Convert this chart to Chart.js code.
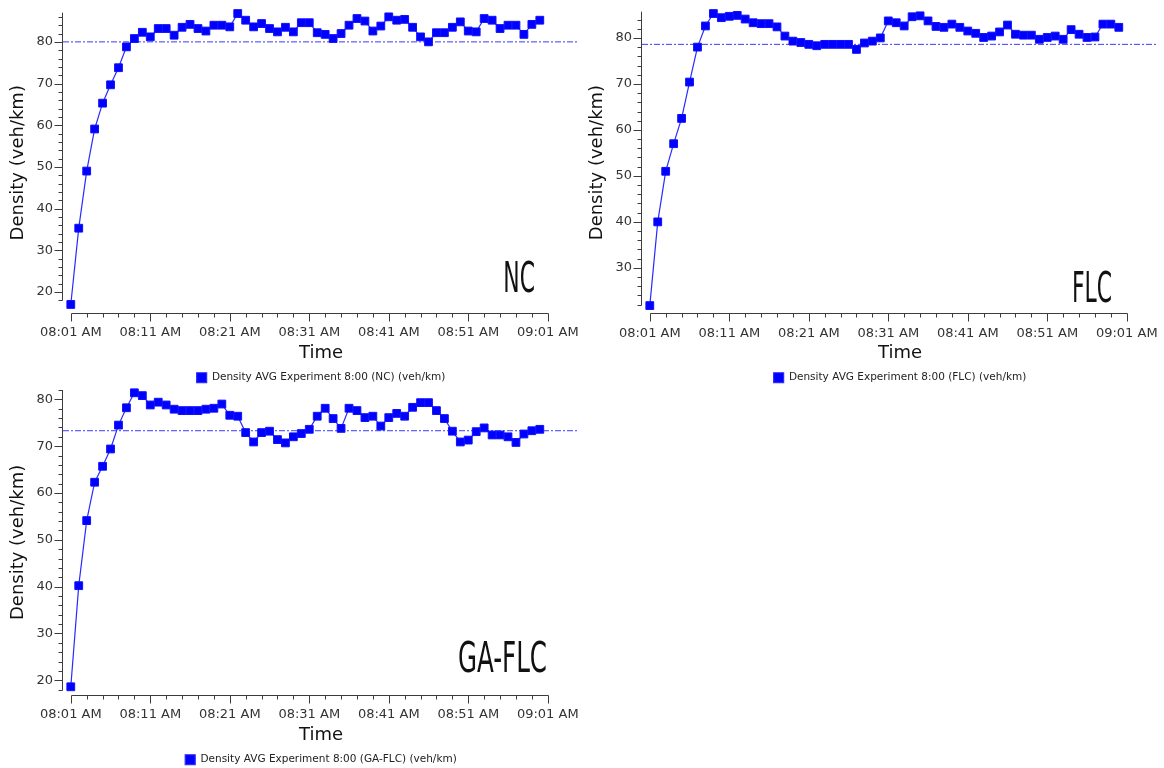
<!DOCTYPE html>
<html>
<head>
<meta charset="utf-8">
<script src="https://cdn.jsdelivr.net/npm/chart.js@4.4.1/dist/chart.umd.min.js"></script>
<style>
  html, body { margin: 0; padding: 0; background: #fff; }
  body { position: relative; width: 1164px; height: 768px; overflow: hidden; }
  canvas { position: absolute; }
</style>
</head>
<body>
<canvas id="chart-nc" width="600" height="393" style="left:0px;top:0px"></canvas>
<canvas id="chart-flc" width="600" height="393" style="left:579px;top:0px"></canvas>
<canvas id="chart-gaflc" width="600" height="395" style="left:0px;top:380px"></canvas>
<script>
// x axis labels, one every 10 minutes
const timeLabels = ["08:01 AM", "08:11 AM", "08:21 AM", "08:31 AM", "08:41 AM", "08:51 AM", "09:01 AM"];

// average density per minute, 08:01 .. 09:00
const densityNC = [
  17.0, 35.3, 49.0, 59.1, 65.3, 69.7, 73.8, 78.8, 80.8, 82.3,
  81.2, 83.2, 83.2, 81.6, 83.5, 84.2, 83.2, 82.6, 84.0, 84.0,
  83.6, 86.8, 85.2, 83.6, 84.4, 83.2, 82.4, 83.5, 82.4, 84.6,
  84.6, 82.2, 81.8, 80.8, 82.0, 84.0, 85.6, 85.0, 82.6, 83.8,
  86.0, 85.2, 85.4, 83.5, 81.2, 80.0, 82.2, 82.2, 83.5, 84.8,
  82.6, 82.4, 85.6, 85.2, 83.2, 84.0, 84.0, 81.8, 84.2, 85.2
];
const densityFLC = [
  21.8, 40.0, 51.0, 57.0, 62.5, 70.4, 78.0, 82.6, 85.3, 84.4,
  84.7, 84.9, 84.1, 83.3, 83.1, 83.1, 82.4, 80.4, 79.3, 79.0,
  78.6, 78.3, 78.6, 78.6, 78.6, 78.6, 77.5, 78.9, 79.3, 80.0,
  83.7, 83.3, 82.6, 84.6, 84.8, 83.7, 82.5, 82.3, 83.0, 82.3,
  81.5, 81.0, 80.1, 80.4, 81.3, 82.8, 80.8, 80.6, 80.6, 79.7,
  80.1, 80.4, 79.7, 81.8, 80.8, 80.1, 80.2, 83.0, 83.0, 82.3
];
const densityGAFLC = [
  18.6, 40.2, 54.1, 62.3, 65.7, 69.4, 74.5, 78.2, 81.4, 80.8,
  78.8, 79.4, 78.8, 77.9, 77.6, 77.6, 77.6, 77.9, 78.1, 79.0,
  76.6, 76.4, 72.9, 70.9, 72.9, 73.2, 71.4, 70.7, 72.0, 72.7,
  73.6, 76.4, 78.1, 75.9, 73.8, 78.1, 77.6, 76.1, 76.4, 74.3,
  76.1, 77.0, 76.4, 78.3, 79.3, 79.3, 77.6, 75.9, 73.2, 70.9,
  71.3, 73.1, 73.9, 72.4, 72.4, 72.0, 70.8, 72.6, 73.3, 73.6
];

// mean level of each run (dash-dot line)
const avgNC = 80.0;
const avgFLC = 78.6;
const avgGAFLC = 73.3;

const X_MIN = 0.02;
const X_MAX = 64.93;

Chart.defaults.font.family = "'DejaVu Sans', Verdana, sans-serif";
Chart.defaults.color = "#333";

// axis lines with long/short tick marks, detached at the corner,
// plus the big method name in the lower right
const axisFrame = {
  id: "axisFrame",
  afterDraw(chart, args, opts) {
    const { ctx, chartArea, scales } = chart;
    const x = scales.x;
    const y = scales.y;
    ctx.save();
    ctx.strokeStyle = "#3c3c3c";
    ctx.lineWidth = 1;
    ctx.beginPath();

    const ax = Math.round(chartArea.left) - 0.5;
    const yLow = Math.round(y.getPixelForValue(y.ticks[0].value)) + 0.5;
    ctx.moveTo(ax, chartArea.top);
    ctx.lineTo(ax, yLow);
    y.ticks.forEach(function(t) {
      const py = Math.round(y.getPixelForValue(t.value)) + 0.5;
      const len = t.value % 10 === 0 ? 8 : 4;
      ctx.moveTo(ax - len, py);
      ctx.lineTo(ax, py);
    });

    const by = Math.round(chartArea.bottom) + 0.5;
    const x0 = Math.round(x.getPixelForValue(x.ticks[0].value)) + 0.5;
    const x1 = Math.round(x.getPixelForValue(x.ticks[x.ticks.length - 1].value)) + 0.5;
    ctx.moveTo(x0, by);
    ctx.lineTo(x1, by);
    x.ticks.forEach(function(t) {
      const px = Math.round(x.getPixelForValue(t.value)) + 0.5;
      const len = (t.value - 1) % 10 === 0 ? 8 : 4;
      ctx.moveTo(px, by);
      ctx.lineTo(px, by + len);
    });
    ctx.stroke();

    // method name, narrow tall lettering
    ctx.fillStyle = "#111";
    ctx.font = "42px 'DejaVu Sans Condensed', 'DejaVu Sans', sans-serif";
    ctx.textAlign = "right";
    ctx.textBaseline = "alphabetic";
    ctx.translate(opts.labelX, opts.labelY);
    ctx.scale(opts.labelScale, 1);
    ctx.fillText(opts.label, 0, 0);
    ctx.restore();
  }
};

function makeChart(canvasId, method, values, avg, frame) {
  const points = values.map(function(v, i) {
    return { x: i + 1, y: v };
  });

  return new Chart(document.getElementById(canvasId), {
    type: "line",
    data: {
      datasets: [
        {
          label: "Density AVG Experiment 8:00 (" + method + ") (veh/km)",
          data: points,
          borderColor: "#2a2aff",
          backgroundColor: "#0000ff",
          borderWidth: 1.2,
          pointStyle: "rect",
          pointRadius: 5.5,
          pointBorderWidth: 1,
          pointBorderColor: "#1010ff",
          pointBackgroundColor: "#0000ff",
          tension: 0,
          clip: false,
          order: 1
        },
        {
          label: "avg",
          data: [
            { x: X_MIN, y: avg },
            { x: X_MAX, y: avg }
          ],
          borderColor: "#3a3aff",
          borderWidth: 1,
          borderDash: [6, 2, 2, 2],
          pointRadius: 0,
          order: 2
        }
      ]
    },
    options: {
      responsive: false,
      animation: false,
      layout: {
        padding: { top: frame.padTop, right: 21, left: 0, bottom: 0 }
      },
      plugins: {
        legend: {
          position: "bottom",
          fullSize: false,
          labels: {
            boxWidth: 10,
            boxHeight: 10,
            padding: 8,
            color: "#222",
            font: { size: 10.5 },
            filter: function(item) {
              return item.datasetIndex === 0;
            }
          }
        },
        tooltip: { enabled: false },
        axisFrame: {
          label: method,
          labelX: frame.labelX,
          labelY: frame.labelY,
          labelScale: frame.labelScale
        }
      },
      scales: {
        x: {
          type: "linear",
          min: X_MIN,
          max: X_MAX,
          afterBuildTicks: function(scale) {
            const ticks = [];
            for (let m = 1; m <= 61; m += 2) ticks.push({ value: m });
            scale.ticks = ticks;
          },
          afterFit: function(scale) {
            scale.height = frame.xHeight;
          },
          grid: {
            drawOnChartArea: false,
            tickLength: 9,
            color: "rgba(0,0,0,0)"
          },
          border: { display: false },
          ticks: {
            autoSkip: false,
            maxRotation: 0,
            padding: 3,
            color: "#333",
            font: { size: 13 },
            callback: function(v) {
              return (v - 1) % 10 === 0 ? timeLabels[(v - 1) / 10] : "";
            }
          },
          title: {
            display: true,
            text: "Time",
            color: "#111",
            font: { size: 18 },
            padding: { top: 0, bottom: 0 }
          }
        },
        y: {
          min: frame.yMin,
          max: frame.yMax,
          afterBuildTicks: function(scale) {
            const ticks = [];
            for (let v = frame.yTickFrom; v <= scale.max; v += 2) ticks.push({ value: v });
            scale.ticks = ticks;
          },
          afterFit: function(scale) {
            scale.width = 63;
          },
          grid: {
            drawOnChartArea: false,
            tickLength: 9,
            color: "rgba(0,0,0,0)"
          },
          border: { display: false },
          ticks: {
            autoSkip: false,
            padding: 1,
            color: "#333",
            font: { size: 13 },
            callback: function(v) {
              return v % 10 === 0 ? String(v) : "";
            }
          },
          title: {
            display: true,
            text: "Density (veh/km)",
            color: "#111",
            font: { size: 18 },
            padding: { top: 8, bottom: 0 }
          }
        }
      }
    },
    plugins: [axisFrame]
  });
}

makeChart("chart-nc", "NC", densityNC, avgNC, {
  padTop: 12.7, xHeight: 51.7, yMin: 15, yMax: 87, yTickFrom: 18,
  labelX: 535, labelY: 292, labelScale: 0.58
});
makeChart("chart-flc", "FLC", densityFLC, avgFLC, {
  padTop: 11.7, xHeight: 51.1, yMin: 20.1, yMax: 85.7, yTickFrom: 22,
  labelX: 533, labelY: 302, labelScale: 0.58
});
makeChart("chart-gaflc", "GA-FLC", densityGAFLC, avgGAFLC, {
  padTop: 10, xHeight: 51.75, yMin: 16.9, yMax: 82, yTickFrom: 18,
  labelX: 547, labelY: 292, labelScale: 0.65
});
</script>
</body>
</html>
